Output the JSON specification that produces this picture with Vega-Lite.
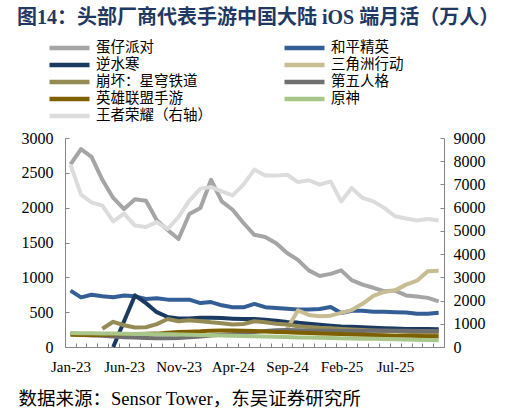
{
  "$schema": "https://vega.github.io/schema/vega-lite/v6.json",
  "width": 379,
  "height": 209,
  "autosize": {"type": "none"},
  "padding": {"left": 65, "top": 138, "right": 65, "bottom": 66},
  "background": "white",
  "config": {
    "view": {"stroke": null},
    "axis": {
      "labelFont": "Liberation Serif",
      "labelFontSize": 15,
      "labelColor": "#000000",
      "domainColor": "#868686",
      "tickColor": "#868686",
      "grid": false,
      "tickSize": -4
    }
  },
  "title": {
    "text": "图14：头部厂商代表手游中国大陆 iOS 端月活（万人）",
    "anchor": "start",
    "frame": "group",
    "dx": -48,
    "offset": 12,
    "font": "Liberation Serif, Noto Sans CJK SC",
    "fontSize": 20,
    "fontWeight": "bold",
    "color": "#1F3864"
  },
  "data": {
    "format": {"parse": {"month": "utc:'%Y-%m'"}},
    "values": [
      {"month": "2023-01", "game": "蛋仔派对", "mau": 2620},
      {"month": "2023-02", "game": "蛋仔派对", "mau": 2840},
      {"month": "2023-03", "game": "蛋仔派对", "mau": 2730},
      {"month": "2023-04", "game": "蛋仔派对", "mau": 2400},
      {"month": "2023-05", "game": "蛋仔派对", "mau": 2140},
      {"month": "2023-06", "game": "蛋仔派对", "mau": 1980},
      {"month": "2023-07", "game": "蛋仔派对", "mau": 2120},
      {"month": "2023-08", "game": "蛋仔派对", "mau": 2100},
      {"month": "2023-09", "game": "蛋仔派对", "mau": 1820},
      {"month": "2023-10", "game": "蛋仔派对", "mau": 1680},
      {"month": "2023-11", "game": "蛋仔派对", "mau": 1550},
      {"month": "2023-12", "game": "蛋仔派对", "mau": 1910},
      {"month": "2024-01", "game": "蛋仔派对", "mau": 1995},
      {"month": "2024-02", "game": "蛋仔派对", "mau": 2400},
      {"month": "2024-03", "game": "蛋仔派对", "mau": 2090},
      {"month": "2024-04", "game": "蛋仔派对", "mau": 1970},
      {"month": "2024-05", "game": "蛋仔派对", "mau": 1780},
      {"month": "2024-06", "game": "蛋仔派对", "mau": 1610},
      {"month": "2024-07", "game": "蛋仔派对", "mau": 1580},
      {"month": "2024-08", "game": "蛋仔派对", "mau": 1490},
      {"month": "2024-09", "game": "蛋仔派对", "mau": 1350},
      {"month": "2024-10", "game": "蛋仔派对", "mau": 1250},
      {"month": "2024-11", "game": "蛋仔派对", "mau": 1100},
      {"month": "2024-12", "game": "蛋仔派对", "mau": 1020},
      {"month": "2025-01", "game": "蛋仔派对", "mau": 1050},
      {"month": "2025-02", "game": "蛋仔派对", "mau": 1100},
      {"month": "2025-03", "game": "蛋仔派对", "mau": 960},
      {"month": "2025-04", "game": "蛋仔派对", "mau": 895},
      {"month": "2025-05", "game": "蛋仔派对", "mau": 850},
      {"month": "2025-06", "game": "蛋仔派对", "mau": 800},
      {"month": "2025-07", "game": "蛋仔派对", "mau": 810},
      {"month": "2025-08", "game": "蛋仔派对", "mau": 740},
      {"month": "2025-09", "game": "蛋仔派对", "mau": 725},
      {"month": "2025-10", "game": "蛋仔派对", "mau": 705},
      {"month": "2025-11", "game": "蛋仔派对", "mau": 655},

      {"month": "2023-01", "game": "和平精英", "mau": 810},
      {"month": "2023-02", "game": "和平精英", "mau": 713},
      {"month": "2023-03", "game": "和平精英", "mau": 750},
      {"month": "2023-04", "game": "和平精英", "mau": 727},
      {"month": "2023-05", "game": "和平精英", "mau": 713},
      {"month": "2023-06", "game": "和平精英", "mau": 740},
      {"month": "2023-07", "game": "和平精英", "mau": 727},
      {"month": "2023-08", "game": "和平精英", "mau": 690},
      {"month": "2023-09", "game": "和平精英", "mau": 700},
      {"month": "2023-10", "game": "和平精英", "mau": 680},
      {"month": "2023-11", "game": "和平精英", "mau": 680},
      {"month": "2023-12", "game": "和平精英", "mau": 680},
      {"month": "2024-01", "game": "和平精英", "mau": 630},
      {"month": "2024-02", "game": "和平精英", "mau": 645},
      {"month": "2024-03", "game": "和平精英", "mau": 598},
      {"month": "2024-04", "game": "和平精英", "mau": 570},
      {"month": "2024-05", "game": "和平精英", "mau": 570},
      {"month": "2024-06", "game": "和平精英", "mau": 618},
      {"month": "2024-07", "game": "和平精英", "mau": 572},
      {"month": "2024-08", "game": "和平精英", "mau": 560},
      {"month": "2024-09", "game": "和平精英", "mau": 550},
      {"month": "2024-10", "game": "和平精英", "mau": 540},
      {"month": "2024-11", "game": "和平精英", "mau": 540},
      {"month": "2024-12", "game": "和平精英", "mau": 545},
      {"month": "2025-01", "game": "和平精英", "mau": 575},
      {"month": "2025-02", "game": "和平精英", "mau": 487},
      {"month": "2025-03", "game": "和平精英", "mau": 520},
      {"month": "2025-04", "game": "和平精英", "mau": 520},
      {"month": "2025-05", "game": "和平精英", "mau": 505},
      {"month": "2025-06", "game": "和平精英", "mau": 505},
      {"month": "2025-07", "game": "和平精英", "mau": 500},
      {"month": "2025-08", "game": "和平精英", "mau": 495},
      {"month": "2025-09", "game": "和平精英", "mau": 478},
      {"month": "2025-10", "game": "和平精英", "mau": 478},
      {"month": "2025-11", "game": "和平精英", "mau": 492},

      {"month": "2023-05", "game": "逆水寒", "mau": 0},
      {"month": "2023-06", "game": "逆水寒", "mau": 370},
      {"month": "2023-07", "game": "逆水寒", "mau": 740},
      {"month": "2023-08", "game": "逆水寒", "mau": 630},
      {"month": "2023-09", "game": "逆水寒", "mau": 500},
      {"month": "2023-10", "game": "逆水寒", "mau": 430},
      {"month": "2023-11", "game": "逆水寒", "mau": 410},
      {"month": "2023-12", "game": "逆水寒", "mau": 410},
      {"month": "2024-01", "game": "逆水寒", "mau": 420},
      {"month": "2024-02", "game": "逆水寒", "mau": 420},
      {"month": "2024-03", "game": "逆水寒", "mau": 415},
      {"month": "2024-04", "game": "逆水寒", "mau": 407},
      {"month": "2024-05", "game": "逆水寒", "mau": 402},
      {"month": "2024-06", "game": "逆水寒", "mau": 402},
      {"month": "2024-07", "game": "逆水寒", "mau": 392},
      {"month": "2024-08", "game": "逆水寒", "mau": 378},
      {"month": "2024-09", "game": "逆水寒", "mau": 360},
      {"month": "2024-10", "game": "逆水寒", "mau": 350},
      {"month": "2024-11", "game": "逆水寒", "mau": 335},
      {"month": "2024-12", "game": "逆水寒", "mau": 320},
      {"month": "2025-01", "game": "逆水寒", "mau": 306},
      {"month": "2025-02", "game": "逆水寒", "mau": 295},
      {"month": "2025-03", "game": "逆水寒", "mau": 290},
      {"month": "2025-04", "game": "逆水寒", "mau": 283},
      {"month": "2025-05", "game": "逆水寒", "mau": 276},
      {"month": "2025-06", "game": "逆水寒", "mau": 270},
      {"month": "2025-07", "game": "逆水寒", "mau": 265},
      {"month": "2025-08", "game": "逆水寒", "mau": 260},
      {"month": "2025-09", "game": "逆水寒", "mau": 258},
      {"month": "2025-10", "game": "逆水寒", "mau": 257},
      {"month": "2025-11", "game": "逆水寒", "mau": 255},

      {"month": "2024-09", "game": "三角洲行动", "mau": 260},
      {"month": "2024-10", "game": "三角洲行动", "mau": 525},
      {"month": "2024-11", "game": "三角洲行动", "mau": 460},
      {"month": "2024-12", "game": "三角洲行动", "mau": 440},
      {"month": "2025-01", "game": "三角洲行动", "mau": 450},
      {"month": "2025-02", "game": "三角洲行动", "mau": 490},
      {"month": "2025-03", "game": "三角洲行动", "mau": 530},
      {"month": "2025-04", "game": "三角洲行动", "mau": 620},
      {"month": "2025-05", "game": "三角洲行动", "mau": 735},
      {"month": "2025-06", "game": "三角洲行动", "mau": 790},
      {"month": "2025-07", "game": "三角洲行动", "mau": 813},
      {"month": "2025-08", "game": "三角洲行动", "mau": 895},
      {"month": "2025-09", "game": "三角洲行动", "mau": 952},
      {"month": "2025-10", "game": "三角洲行动", "mau": 1086},
      {"month": "2025-11", "game": "三角洲行动", "mau": 1096},

      {"month": "2023-04", "game": "崩坏：星穹铁道", "mau": 262},
      {"month": "2023-05", "game": "崩坏：星穹铁道", "mau": 362},
      {"month": "2023-06", "game": "崩坏：星穹铁道", "mau": 312},
      {"month": "2023-07", "game": "崩坏：星穹铁道", "mau": 280},
      {"month": "2023-08", "game": "崩坏：星穹铁道", "mau": 284},
      {"month": "2023-09", "game": "崩坏：星穹铁道", "mau": 328},
      {"month": "2023-10", "game": "崩坏：星穹铁道", "mau": 402},
      {"month": "2023-11", "game": "崩坏：星穹铁道", "mau": 370},
      {"month": "2023-12", "game": "崩坏：星穹铁道", "mau": 385},
      {"month": "2024-01", "game": "崩坏：星穹铁道", "mau": 370},
      {"month": "2024-02", "game": "崩坏：星穹铁道", "mau": 354},
      {"month": "2024-03", "game": "崩坏：星穹铁道", "mau": 342},
      {"month": "2024-04", "game": "崩坏：星穹铁道", "mau": 323},
      {"month": "2024-05", "game": "崩坏：星穹铁道", "mau": 330},
      {"month": "2024-06", "game": "崩坏：星穹铁道", "mau": 370},
      {"month": "2024-07", "game": "崩坏：星穹铁道", "mau": 354},
      {"month": "2024-08", "game": "崩坏：星穹铁道", "mau": 335},
      {"month": "2024-09", "game": "崩坏：星穹铁道", "mau": 322},
      {"month": "2024-10", "game": "崩坏：星穹铁道", "mau": 298},
      {"month": "2024-11", "game": "崩坏：星穹铁道", "mau": 288},
      {"month": "2024-12", "game": "崩坏：星穹铁道", "mau": 275},
      {"month": "2025-01", "game": "崩坏：星穹铁道", "mau": 268},
      {"month": "2025-02", "game": "崩坏：星穹铁道", "mau": 258},
      {"month": "2025-03", "game": "崩坏：星穹铁道", "mau": 250},
      {"month": "2025-04", "game": "崩坏：星穹铁道", "mau": 243},
      {"month": "2025-05", "game": "崩坏：星穹铁道", "mau": 237},
      {"month": "2025-06", "game": "崩坏：星穹铁道", "mau": 230},
      {"month": "2025-07", "game": "崩坏：星穹铁道", "mau": 225},
      {"month": "2025-08", "game": "崩坏：星穹铁道", "mau": 218},
      {"month": "2025-09", "game": "崩坏：星穹铁道", "mau": 212},
      {"month": "2025-10", "game": "崩坏：星穹铁道", "mau": 205},
      {"month": "2025-11", "game": "崩坏：星穹铁道", "mau": 200},

      {"month": "2023-01", "game": "第五人格", "mau": 195},
      {"month": "2023-02", "game": "第五人格", "mau": 180},
      {"month": "2023-03", "game": "第五人格", "mau": 170},
      {"month": "2023-04", "game": "第五人格", "mau": 160},
      {"month": "2023-05", "game": "第五人格", "mau": 150},
      {"month": "2023-06", "game": "第五人格", "mau": 140},
      {"month": "2023-07", "game": "第五人格", "mau": 135},
      {"month": "2023-08", "game": "第五人格", "mau": 130},
      {"month": "2023-09", "game": "第五人格", "mau": 125},
      {"month": "2023-10", "game": "第五人格", "mau": 125},
      {"month": "2023-11", "game": "第五人格", "mau": 130},
      {"month": "2023-12", "game": "第五人格", "mau": 140},
      {"month": "2024-01", "game": "第五人格", "mau": 150},
      {"month": "2024-02", "game": "第五人格", "mau": 165},
      {"month": "2024-03", "game": "第五人格", "mau": 175},
      {"month": "2024-04", "game": "第五人格", "mau": 185},
      {"month": "2024-05", "game": "第五人格", "mau": 200},
      {"month": "2024-06", "game": "第五人格", "mau": 215},
      {"month": "2024-07", "game": "第五人格", "mau": 230},
      {"month": "2024-08", "game": "第五人格", "mau": 240},
      {"month": "2024-09", "game": "第五人格", "mau": 245},
      {"month": "2024-10", "game": "第五人格", "mau": 240},
      {"month": "2024-11", "game": "第五人格", "mau": 235},
      {"month": "2024-12", "game": "第五人格", "mau": 235},
      {"month": "2025-01", "game": "第五人格", "mau": 232},
      {"month": "2025-02", "game": "第五人格", "mau": 230},
      {"month": "2025-03", "game": "第五人格", "mau": 228},
      {"month": "2025-04", "game": "第五人格", "mau": 230},
      {"month": "2025-05", "game": "第五人格", "mau": 235},
      {"month": "2025-06", "game": "第五人格", "mau": 238},
      {"month": "2025-07", "game": "第五人格", "mau": 235},
      {"month": "2025-08", "game": "第五人格", "mau": 232},
      {"month": "2025-09", "game": "第五人格", "mau": 228},
      {"month": "2025-10", "game": "第五人格", "mau": 228},
      {"month": "2025-11", "game": "第五人格", "mau": 228},

      {"month": "2023-01", "game": "英雄联盟手游", "mau": 175},
      {"month": "2023-02", "game": "英雄联盟手游", "mau": 172},
      {"month": "2023-03", "game": "英雄联盟手游", "mau": 170},
      {"month": "2023-04", "game": "英雄联盟手游", "mau": 175},
      {"month": "2023-05", "game": "英雄联盟手游", "mau": 180},
      {"month": "2023-06", "game": "英雄联盟手游", "mau": 185},
      {"month": "2023-07", "game": "英雄联盟手游", "mau": 188},
      {"month": "2023-08", "game": "英雄联盟手游", "mau": 190},
      {"month": "2023-09", "game": "英雄联盟手游", "mau": 192},
      {"month": "2023-10", "game": "英雄联盟手游", "mau": 205},
      {"month": "2023-11", "game": "英雄联盟手游", "mau": 215},
      {"month": "2023-12", "game": "英雄联盟手游", "mau": 220},
      {"month": "2024-01", "game": "英雄联盟手游", "mau": 225},
      {"month": "2024-02", "game": "英雄联盟手游", "mau": 235},
      {"month": "2024-03", "game": "英雄联盟手游", "mau": 238},
      {"month": "2024-04", "game": "英雄联盟手游", "mau": 238},
      {"month": "2024-05", "game": "英雄联盟手游", "mau": 235},
      {"month": "2024-06", "game": "英雄联盟手游", "mau": 228},
      {"month": "2024-07", "game": "英雄联盟手游", "mau": 222},
      {"month": "2024-08", "game": "英雄联盟手游", "mau": 215},
      {"month": "2024-09", "game": "英雄联盟手游", "mau": 210},
      {"month": "2024-10", "game": "英雄联盟手游", "mau": 205},
      {"month": "2024-11", "game": "英雄联盟手游", "mau": 200},
      {"month": "2024-12", "game": "英雄联盟手游", "mau": 195},
      {"month": "2025-01", "game": "英雄联盟手游", "mau": 190},
      {"month": "2025-02", "game": "英雄联盟手游", "mau": 185},
      {"month": "2025-03", "game": "英雄联盟手游", "mau": 180},
      {"month": "2025-04", "game": "英雄联盟手游", "mau": 176},
      {"month": "2025-05", "game": "英雄联盟手游", "mau": 172},
      {"month": "2025-06", "game": "英雄联盟手游", "mau": 168},
      {"month": "2025-07", "game": "英雄联盟手游", "mau": 163},
      {"month": "2025-08", "game": "英雄联盟手游", "mau": 160},
      {"month": "2025-09", "game": "英雄联盟手游", "mau": 157},
      {"month": "2025-10", "game": "英雄联盟手游", "mau": 153},
      {"month": "2025-11", "game": "英雄联盟手游", "mau": 150},

      {"month": "2023-01", "game": "原神", "mau": 200},
      {"month": "2023-02", "game": "原神", "mau": 198},
      {"month": "2023-03", "game": "原神", "mau": 196},
      {"month": "2023-04", "game": "原神", "mau": 194},
      {"month": "2023-05", "game": "原神", "mau": 192},
      {"month": "2023-06", "game": "原神", "mau": 190},
      {"month": "2023-07", "game": "原神", "mau": 188},
      {"month": "2023-08", "game": "原神", "mau": 186},
      {"month": "2023-09", "game": "原神", "mau": 184},
      {"month": "2023-10", "game": "原神", "mau": 182},
      {"month": "2023-11", "game": "原神", "mau": 178},
      {"month": "2023-12", "game": "原神", "mau": 175},
      {"month": "2024-01", "game": "原神", "mau": 172},
      {"month": "2024-02", "game": "原神", "mau": 168},
      {"month": "2024-03", "game": "原神", "mau": 165},
      {"month": "2024-04", "game": "原神", "mau": 162},
      {"month": "2024-05", "game": "原神", "mau": 158},
      {"month": "2024-06", "game": "原神", "mau": 155},
      {"month": "2024-07", "game": "原神", "mau": 150},
      {"month": "2024-08", "game": "原神", "mau": 146},
      {"month": "2024-09", "game": "原神", "mau": 142},
      {"month": "2024-10", "game": "原神", "mau": 138},
      {"month": "2024-11", "game": "原神", "mau": 135},
      {"month": "2024-12", "game": "原神", "mau": 132},
      {"month": "2025-01", "game": "原神", "mau": 128},
      {"month": "2025-02", "game": "原神", "mau": 125},
      {"month": "2025-03", "game": "原神", "mau": 122},
      {"month": "2025-04", "game": "原神", "mau": 120},
      {"month": "2025-05", "game": "原神", "mau": 118},
      {"month": "2025-06", "game": "原神", "mau": 115},
      {"month": "2025-07", "game": "原神", "mau": 112},
      {"month": "2025-08", "game": "原神", "mau": 108},
      {"month": "2025-09", "game": "原神", "mau": 105},
      {"month": "2025-10", "game": "原神", "mau": 100},
      {"month": "2025-11", "game": "原神", "mau": 98},

      {"month": "2023-01", "game": "王者荣耀（右轴）", "mau": 7850},
      {"month": "2023-02", "game": "王者荣耀（右轴）", "mau": 6560},
      {"month": "2023-03", "game": "王者荣耀（右轴）", "mau": 6230},
      {"month": "2023-04", "game": "王者荣耀（右轴）", "mau": 6090},
      {"month": "2023-05", "game": "王者荣耀（右轴）", "mau": 5410},
      {"month": "2023-06", "game": "王者荣耀（右轴）", "mau": 5740},
      {"month": "2023-07", "game": "王者荣耀（右轴）", "mau": 5230},
      {"month": "2023-08", "game": "王者荣耀（右轴）", "mau": 5170},
      {"month": "2023-09", "game": "王者荣耀（右轴）", "mau": 5380},
      {"month": "2023-10", "game": "王者荣耀（右轴）", "mau": 5080},
      {"month": "2023-11", "game": "王者荣耀（右轴）", "mau": 5600},
      {"month": "2023-12", "game": "王者荣耀（右轴）", "mau": 6300},
      {"month": "2024-01", "game": "王者荣耀（右轴）", "mau": 6820},
      {"month": "2024-02", "game": "王者荣耀（右轴）", "mau": 6890},
      {"month": "2024-03", "game": "王者荣耀（右轴）", "mau": 6700},
      {"month": "2024-04", "game": "王者荣耀（右轴）", "mau": 6530},
      {"month": "2024-05", "game": "王者荣耀（右轴）", "mau": 6990},
      {"month": "2024-06", "game": "王者荣耀（右轴）", "mau": 7640},
      {"month": "2024-07", "game": "王者荣耀（右轴）", "mau": 7380},
      {"month": "2024-08", "game": "王者荣耀（右轴）", "mau": 7380},
      {"month": "2024-09", "game": "王者荣耀（右轴）", "mau": 7420},
      {"month": "2024-10", "game": "王者荣耀（右轴）", "mau": 7100},
      {"month": "2024-11", "game": "王者荣耀（右轴）", "mau": 7180},
      {"month": "2024-12", "game": "王者荣耀（右轴）", "mau": 6990},
      {"month": "2025-01", "game": "王者荣耀（右轴）", "mau": 7130},
      {"month": "2025-02", "game": "王者荣耀（右轴）", "mau": 6270},
      {"month": "2025-03", "game": "王者荣耀（右轴）", "mau": 6850},
      {"month": "2025-04", "game": "王者荣耀（右轴）", "mau": 6420},
      {"month": "2025-05", "game": "王者荣耀（右轴）", "mau": 6270},
      {"month": "2025-06", "game": "王者荣耀（右轴）", "mau": 5990},
      {"month": "2025-07", "game": "王者荣耀（右轴）", "mau": 5630},
      {"month": "2025-08", "game": "王者荣耀（右轴）", "mau": 5530},
      {"month": "2025-09", "game": "王者荣耀（右轴）", "mau": 5450},
      {"month": "2025-10", "game": "王者荣耀（右轴）", "mau": 5510},
      {"month": "2025-11", "game": "王者荣耀（右轴）", "mau": 5450}
    ]
  },
  "encoding": {
    "x": {
      "field": "month",
      "type": "temporal",
      "timeUnit": "utcyearmonth",
      "bandPosition": 0.5,
      "scale": {
        "domain": [
          {"year": 2023, "month": 1, "date": 1, "utc": true},
          {"year": 2025, "month": 12, "date": 1, "utc": true}
        ]
      },
      "axis": {
        "title": "数据来源：Sensor Tower，东吴证券研究所",
        "titleFont": "Liberation Serif, Noto Sans CJK SC",
        "titleFontSize": 18.5,
        "titleFontWeight": "normal",
        "titleColor": "#000000",
        "titleAlign": "left",
        "titleBaseline": "alphabetic",
        "titleX": -47,
        "titleY": 57,
        "tickCount": {"interval": "month", "step": 1},
        "labelExpr": "(utcyear(datum.value) * 12 + utcmonth(datum.value)) % 5 == 1 && datum.value < utc(2025, 11, 1) ? utcFormat(datum.value, '%b-%y') : ''",
        "labelOffset": 5.4,
        "labelOverlap": false,
        "labelFlush": false,
        "labelPadding": 16
      }
    },
    "color": {
      "field": "game",
      "type": "nominal",
      "scale": {
        "domain": ["蛋仔派对", "和平精英", "逆水寒", "三角洲行动", "崩坏：星穹铁道", "第五人格", "英雄联盟手游", "原神", "王者荣耀（右轴）"],
        "range": ["#A5A5A5", "#345E96", "#1B3A62", "#C8BC92", "#958B55", "#707070", "#7F6000", "#A8C68A", "#DCDCDC"]
      },
      "legend": {
        "orient": "none",
        "legendX": -18,
        "legendY": -98.5,
        "direction": "horizontal",
        "columns": 2,
        "title": null,
        "padding": 0,
        "symbolType": "stroke",
        "symbolSize": 1600,
        "symbolStrokeWidth": 4.5,
        "clipHeight": 17,
        "rowPadding": 0,
        "columnPadding": 70,
        "labelOffset": 4,
        "labelFont": "Noto Sans CJK SC",
        "labelFontSize": 14.5,
        "labelColor": "#000000",
        "labelLimit": 300
      }
    }
  },
  "layer": [
    {
      "transform": [{"filter": "datum.game != '王者荣耀（右轴）'"}],
      "mark": {"type": "line", "strokeWidth": 4, "strokeJoin": "round"},
      "encoding": {
        "y": {
          "field": "mau",
          "type": "quantitative",
          "scale": {"domain": [0, 3000]},
          "axis": {
            "title": null,
            "orient": "left",
            "values": [0, 500, 1000, 1500, 2000, 2500, 3000],
            "format": "d",
            "labelFontSize": 16,
            "labelPadding": 16
          }
        }
      }
    },
    {
      "transform": [{"filter": "datum.game == '王者荣耀（右轴）'"}],
      "mark": {"type": "line", "strokeWidth": 4, "strokeJoin": "round"},
      "encoding": {
        "y": {
          "field": "mau",
          "type": "quantitative",
          "scale": {"domain": [0, 9000]},
          "axis": {
            "title": null,
            "orient": "right",
            "values": [0, 1000, 2000, 3000, 4000, 5000, 6000, 7000, 8000, 9000],
            "format": "d",
            "labelFontSize": 16,
            "labelPadding": 13
          }
        }
      }
    }
  ],
  "resolve": {"scale": {"y": "independent"}}
}
